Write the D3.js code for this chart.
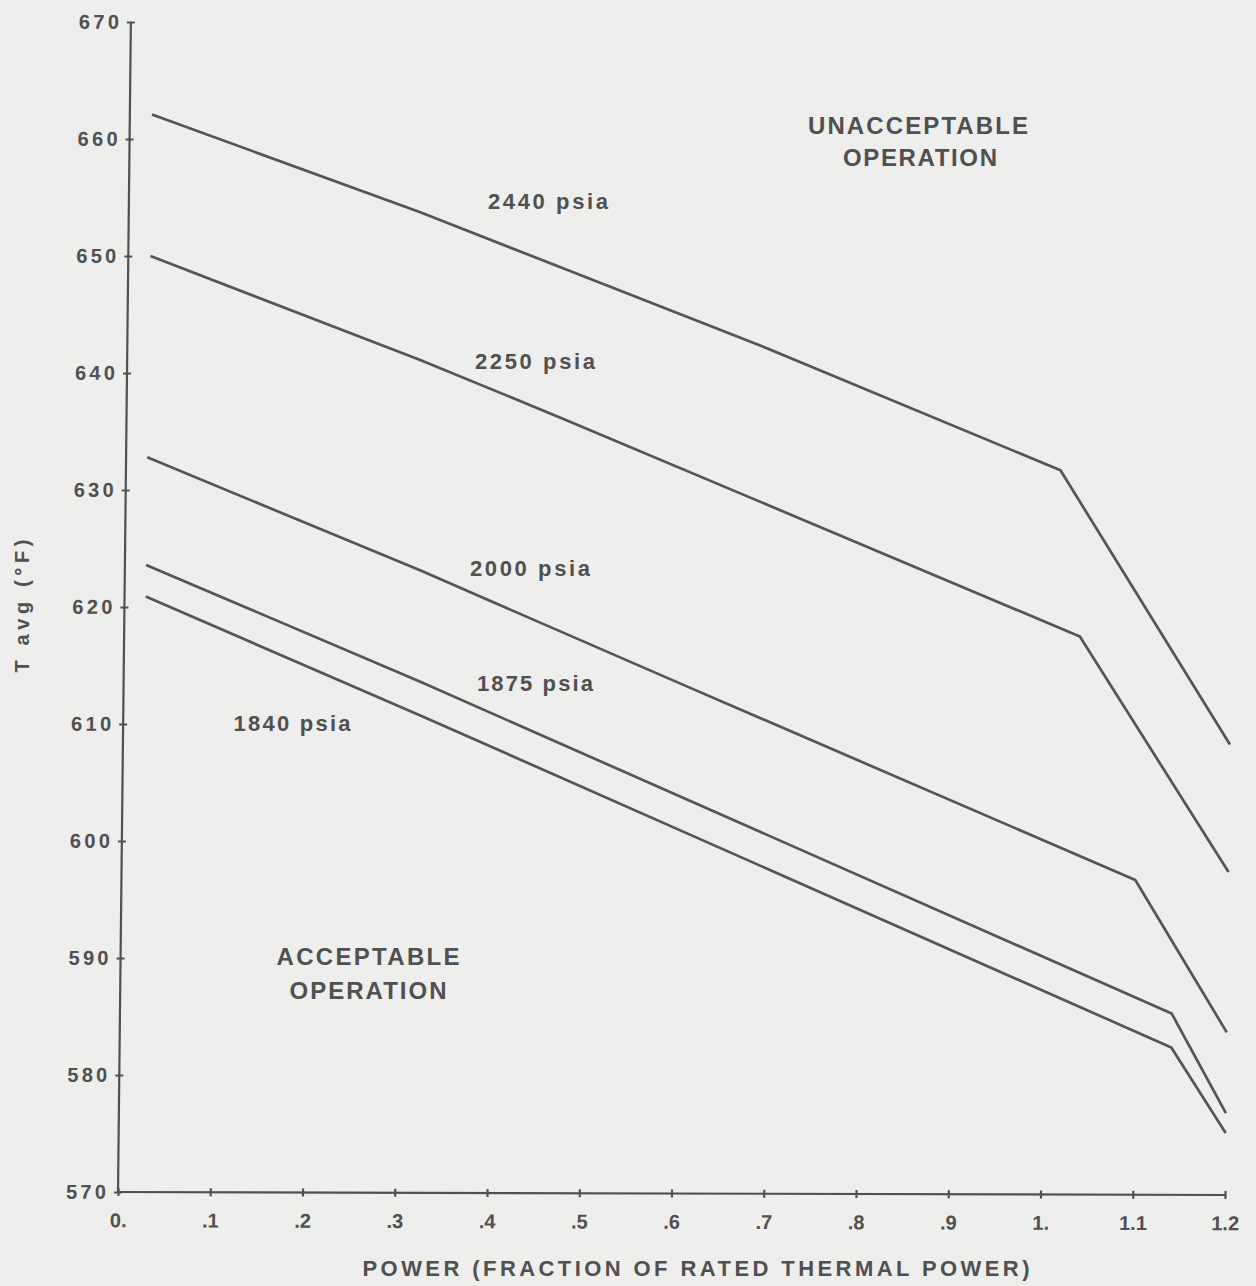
<!DOCTYPE html>
<html>
<head>
<meta charset="utf-8">
<script src="https://cdn.jsdelivr.net/npm/d3@7"></script>
<style>
  body { margin: 0; background: #eeeeec; }
  #chart { width: 1256px; height: 1286px; }
  text { font-family: "Liberation Sans", Arial, sans-serif; fill: #505050; font-weight: bold; }
  .axis path, .axis line { stroke: #505050; stroke-width: 2.2; }
  .curve { fill: none; stroke: #555; stroke-width: 2.7; stroke-linejoin: round; }
</style>
</head>
<body>
<div id="chart"></div>
<script>

// values (power fraction vs Tavg, deg F)
var power2440 = [0.024, 0.316, 0.686, 1.013, 1.2];
var tavg2440  = [662.1, 653.8, 642.5, 631.9, 608.5];

var power2250 = [0.024, 0.317, 0.473, 1.036, 1.2];
var tavg2250  = [650.0, 641.2, 636.2, 617.7, 597.6];

var power2000 = [0.023, 0.320, 0.603, 1.099, 1.2];
var tavg2000  = [632.8, 623.2, 613.6, 596.9, 583.9];

var power1875 = [0.023, 0.321, 1.140, 1.2];
var tavg1875  = [623.6, 613.7, 585.5, 577.0];

var power1840 = [0.023, 0.322, 1.140, 1.2];
var tavg1840  = [620.9, 610.8, 582.6, 575.3];

var xTicks = [0, 0.1, 0.2, 0.3, 0.4, 0.5, 0.6, 0.7, 0.8, 0.9, 1.0, 1.1, 1.2];
var xTickLabels = ["0.", ".1", ".2", ".3", ".4", ".5", ".6", ".7", ".8", ".9", "1.", "1.1", "1.2"];
var yTicks = [570, 580, 590, 600, 610, 620, 630, 640, 650, 660, 670];

var series = [
    {name: "2440 psia", power: power2440, tavg: tavg2440},
    {name: "2250 psia", power: power2250, tavg: tavg2250},
    {name: "2000 psia", power: power2000, tavg: tavg2000},
    {name: "1875 psia", power: power1875, tavg: tavg1875},
    {name: "1840 psia", power: power1840, tavg: tavg1840}
];

var width = 1256;
var height = 1286;

var svg = d3.select("#chart")
    .append("svg")
    .attr("width", width)
    .attr("height", height);

svg.append("rect")
    .attr("width", width)
    .attr("height", height)
    .attr("fill", "#eeeeec");

// the scan is a little sheared, so the plot group is too
var plot = svg.append("g")
    .attr("transform", "matrix(1,0.0027,-0.011,1,118,1192)");

var xScale = d3.scaleLinear()
    .domain([0, 1.2])
    .range([0, 1107]);

var yScale = d3.scaleLinear()
    .domain([570, 670])
    .range([0, -1170]);

var xAxis = plot.append("g")
    .attr("class", "axis")
    .call(d3.axisBottom(xScale)
        .tickValues(xTicks)
        .tickSize(0)
        .tickPadding(21)
        .tickFormat(function(d, i) { return xTickLabels[i]; }));

xAxis.select(".domain").attr("d", "M0,0H" + xScale(1.2));
xAxis.selectAll(".tick line").attr("y1", -4).attr("y2", 4);
xAxis.selectAll("text")
    .style("font-size", "20px")
    .attr("fill", "#505050");

var yAxis = plot.append("g")
    .attr("class", "axis")
    .call(d3.axisLeft(yScale)
        .tickValues(yTicks)
        .tickSize(0)
        .tickPadding(12));

yAxis.select(".domain").attr("d", "M0,0V" + yScale(670));
yAxis.selectAll(".tick line").attr("x1", -4).attr("x2", 4);
yAxis.selectAll("text")
    .style("font-size", "20px")
    .attr("textLength", 40)
    .attr("lengthAdjust", "spacing")
    .attr("fill", "#505050");

var line = d3.line()
    .x(function(d) { return xScale(d[0]); })
    .y(function(d) { return yScale(d[1]); });

plot.selectAll(".curve")
    .data(series)
    .enter()
    .append("path")
    .attr("class", "curve")
    .attr("d", function(s) { return line(d3.zip(s.power, s.tavg)); });

// labels, placed where they sit on the page
function label(txt, cx, baseline, size, len) {
    svg.append("text")
        .attr("x", cx)
        .attr("y", baseline)
        .attr("text-anchor", "middle")
        .attr("textLength", len)
        .attr("lengthAdjust", "spacing")
        .style("font-size", size + "px")
        .text(txt);
}

label(series[0].name, 548, 209, 22, 120);
label(series[1].name, 535, 369, 22, 120);
label(series[2].name, 530, 576, 22, 120);
label(series[3].name, 535, 691, 22, 116);
label(series[4].name, 292, 731, 22, 117);

label("UNACCEPTABLE", 918, 134, 24, 220);
label("OPERATION", 920, 166, 24, 154);
label("ACCEPTABLE", 368, 965, 24, 183);
label("OPERATION", 368, 999, 24, 157);

label("POWER (FRACTION OF RATED THERMAL POWER)", 696, 1276, 22, 667);

svg.append("text")
    .attr("transform", "translate(29,606) rotate(-90)")
    .attr("text-anchor", "middle")
    .attr("textLength", 133)
    .attr("lengthAdjust", "spacing")
    .style("font-size", "20px")
    .text("T avg (°F)");

</script>
</body>
</html>
